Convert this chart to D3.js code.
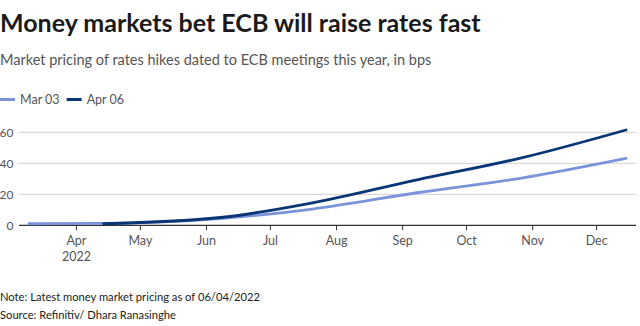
<!DOCTYPE html>
<html>
<head>
<meta charset="utf-8">
<script src="https://cdn.jsdelivr.net/npm/d3@7"></script>
<style>
  body { margin: 0; background: #fff; }
  svg text { font-family: Lato, "Noto Sans", sans-serif; }
</style>
</head>
<body>
<div id="chart"></div>
<script>
// ECB meeting dates and priced-in hikes (bps) on two pricing dates
const meetingsMar = ['2022-03-10', '2022-04-14', '2022-06-09', '2022-07-21', '2022-09-08', '2022-10-27', '2022-12-15']
const valuesMar = [1, 1.2, 4.5, 10.5, 21, 30.5, 43.2]
const meetingsApr = ['2022-04-14', '2022-06-09', '2022-07-21', '2022-09-08', '2022-10-27', '2022-12-15']
const valuesApr = [1, 5.2, 14.5, 29.3, 43.5, 61.5]
const seriesNames = ['Mar 03', 'Apr 06']
const seriesColors = ['#7b93da', '#0a3676']
const yTicks = [0, 20, 40, 60]

const width = 640, height = 326
const parse = d3.utcParse('%Y-%m-%d')

const series = [
  meetingsMar.map((d, i) => ({ date: parse(d), value: valuesMar[i] })),
  meetingsApr.map((d, i) => ({ date: parse(d), value: valuesApr[i] })),
]

const svg = d3.select('#chart').append('svg')
  .attr('width', width)
  .attr('height', height)

svg.append('text')
  .attr('x', 0).attr('y', 32)
  .attr('font-size', 25).attr('font-weight', 700)
  .attr('fill', '#1a1a1a')
  .text('Money markets bet ECB will raise rates fast')

svg.append('text')
  .attr('x', 0).attr('y', 65)
  .attr('font-size', 14.5)
  .attr('fill', '#555')
  .text('Market pricing of rates hikes dated to ECB meetings this year, in bps')

// legend
const legend = svg.append('g').attr('transform', 'translate(0,99.5)')
let lx = 0
seriesNames.forEach((name, i) => {
  legend.append('line')
    .attr('x1', lx).attr('x2', lx + 15)
    .attr('stroke', seriesColors[i]).attr('stroke-width', 3)
  const t = legend.append('text')
    .attr('x', lx + 20).attr('y', 4.5)
    .attr('font-size', 12.5).attr('fill', '#555')
    .text(name)
  lx += 20 + t.node().getComputedTextLength() + 7
})

const x = d3.scaleUtc()
  .domain([parse('2022-03-10'), parse('2022-12-15')])
  .range([29, 626])

const y = d3.scaleLinear()
  .domain([0, 60])
  .range([225.3, 132.3])

const plotLeft = 19, plotRight = 636

// gridlines
svg.append('g')
  .selectAll('line')
  .data(yTicks.filter(d => d > 0))
  .join('line')
  .attr('x1', plotLeft).attr('x2', plotRight)
  .attr('y1', d => y(d)).attr('y2', d => y(d))
  .attr('stroke', '#d0d0d0').attr('stroke-width', 1)

svg.append('g')
  .selectAll('text')
  .data(yTicks)
  .join('text')
  .attr('x', 13.5).attr('y', d => y(d) + 4.3)
  .attr('text-anchor', 'end')
  .attr('font-size', 12).attr('fill', '#555')
  .text(d => d)

// x axis
const xAxis = d3.axisBottom(x)
  .ticks(d3.utcMonth.every(1))
  .tickSize(5)
  .tickFormat(d3.utcFormat('%b'))

const gx = svg.append('g')
  .attr('transform', `translate(0,${y(0)})`)
  .call(xAxis)
gx.select('.domain').remove()
gx.selectAll('.tick line').attr('stroke', '#333')
gx.selectAll('.tick text')
  .attr('font-size', 12.5).attr('fill', '#555')
  .attr('font-family', 'Lato, sans-serif')
  .attr('dy', '0.95em')
gx.selectAll('.tick').filter(d => d.getUTCMonth() === 3)
  .append('text')
  .attr('y', 27).attr('dy', '0.71em')
  .attr('fill', '#555').attr('font-size', 12.5)
  .attr('text-anchor', 'middle')
  .text('2022')

svg.append('line')
  .attr('x1', plotLeft).attr('x2', plotRight)
  .attr('y1', y(0)).attr('y2', y(0))
  .attr('stroke', '#333').attr('stroke-width', 1.2)

const line = d3.line()
  .x(d => x(d.date))
  .y(d => y(d.value))
  .curve(d3.curveMonotoneX)

svg.append('g')
  .selectAll('path')
  .data(series)
  .join('path')
  .attr('d', line)
  .attr('fill', 'none')
  .attr('stroke', (d, i) => seriesColors[i])
  .attr('stroke-width', 2.8)
  .attr('stroke-linecap', 'round')

svg.append('text')
  .attr('x', 0).attr('y', 301)
  .attr('font-size', 11.2).attr('fill', '#222')
  .text('Note: Latest money market pricing as of 06/04/2022')

svg.append('text')
  .attr('x', 0).attr('y', 319)
  .attr('font-size', 11.2).attr('fill', '#222')
  .text('Source: Refinitiv/ Dhara Ranasinghe')
</script>
</body>
</html>
